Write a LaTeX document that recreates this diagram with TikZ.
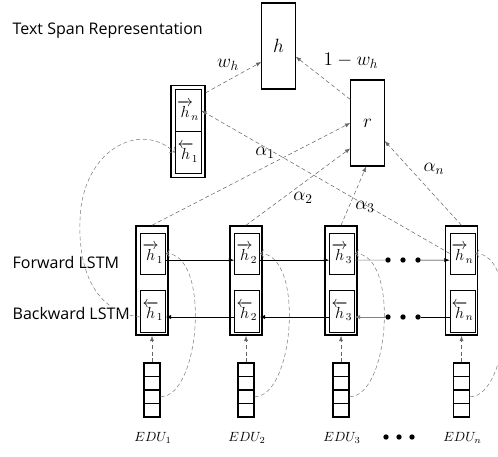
\documentclass[tikz,border=0pt]{standalone}
\usepackage[no-math]{fontspec}
\setmainfont{Open Sans}
\usepackage{amsmath}
\usetikzlibrary{arrows.meta}
\newcommand{\fh}[1]{{\overrightarrow{h}}\mkern-2mu_{#1}}
\newcommand{\bh}[1]{{\overleftarrow{h}}\mkern-2mu_{#1}}

\begin{document}
\begin{tikzpicture}[x=0.75pt,y=-0.75pt,
  cellbox/.style={draw,minimum width=18.75pt,minimum height=30.75pt,inner sep=0pt,font=\large},
  colbox/.style={draw,line width=1.1pt,minimum width=24pt,minimum height=81.75pt,inner sep=0pt},
  embbox/.style={draw,thick,minimum width=12pt,minimum height=10.125pt,inner sep=0pt},
  outbox/.style={draw,thick,minimum width=25pt,minimum height=64.5pt,inner sep=0pt,font=\Large},
  dotnode/.style={circle,fill,inner sep=0pt,minimum size=4pt},
  attn/.style={densely dashed,gray!80!black,-{Latex[length=4pt,width=3pt]}},
  loop/.style={densely dashed,gray,-{To[length=3pt]}},
  lstm/.style={-{Latex[length=4pt,width=3pt]}},
  lbl/.style={font=\Large}]
\useasboundingbox (0,0) rectangle (498,456);

%%output layer
\node[anchor=west,font=\large] (title) at (8,31) {Text Span Representation};
\node[outbox] (h) at (278.5,46) {$h$};
\node[outbox] (r) at (367.5,123) {$r$};
\node[lbl] (wh) at (228,65) {$w_h$};
\node[lbl] (wr) at (351,61) {$1-w_h$};

%%span box
\node[draw,line width=1.1pt,minimum width=25.5pt,minimum height=69pt,inner sep=0pt] (tb) at (188,131.5) {};
\node[cellbox,minimum width=19.5pt,minimum height=31.5pt] (tbf) at (188,110.5) {$\fh{n}$};
\node[cellbox,minimum width=19.5pt,minimum height=31.5pt] (tbb) at (188,152.5) {$\bh{1}$};

%%LSTM columns
\node[anchor=west,font=\large] (fwd) at (8,262) {Forward LSTM};
\node[anchor=west,font=\large] (bwd) at (8,313) {Backward LSTM};
\foreach \i/\x in {1/152,2/246,3/341,n/461.5}
{
\node[colbox] (c\i) at (\x,280.5) {};
\node[cellbox] (f\i) at (\x+1,253.5) {$\fh{\i}$};
\node[cellbox,minimum height=31.5pt] (b\i) at (\x+1,311) {$\bh{\i}$};
\foreach \k in {1,...,4}
  \node[embbox] (e\i-\k) at (\x,356.25+13.5*\k) {};
\node (edu\i) at (\x+1,438) {$EDU_\i$};
\draw[attn] (e\i-1.north) -- (c\i.south);
\draw[loop] (e\i-3.east) .. controls +(40,0) and +(45,0) .. (f\i.east);
}
\foreach \j/\x in {1/388,2/403,3/418}
{
\node[dotnode] (fd\j) at (\x,260) {};
\node[dotnode] (bd\j) at (\x,317) {};
}
\foreach \j/\x in {1/386,2/399,3/412}
\node[dotnode] (ed\j) at (\x,437) {};

%%recurrent links
\draw[lstm] ([yshift=-5pt]f1.east) -- ([yshift=-5pt]f2.west);
\draw[lstm] ([yshift=-5pt]f2.east) -- ([yshift=-5pt]f3.west);
\draw[gray] ([yshift=-5pt]f3.east) -- (fd1);
\draw[lstm] (fd3) -- ([yshift=-5pt]fn.west);
\draw ([yshift=-4.5pt]bn.west) -- (bd3);
\draw[lstm,gray] (bd1) -- ([yshift=-4.5pt]b3.east);
\draw[lstm] ([yshift=-4.5pt]b3.west) -- ([yshift=-4.5pt]b2.east);
\draw[lstm] ([yshift=-4.5pt]b2.west) -- ([yshift=-4.5pt]b1.east);

%%attention
\draw[attn] (c1.north) -- (r.west);
\draw[attn] (c2.north) -- ([yshift=-19pt]r.west);
\draw[attn] (c3.north) -- ([xshift=-1pt]r.south);
\draw[attn] (cn.north) -- ([yshift=-13.5pt]r.east);
\node[lbl] (a1) at (265,153) {$\alpha_1$};
\node[lbl] (a2) at (303,198) {$\alpha_2$};
\node[lbl] (a3) at (365,207) {$\alpha_3$};
\node[lbl] (an) at (434,169) {$\alpha_n$};

%%span links
\draw[attn] (fn.west) -- (tbf.east);
\draw[loop] ([yshift=-4.5pt]b1.west) .. controls (95,312) and (78,270) .. (80,220)
  .. controls (82,150) and (140,120) .. (tbb.west);
\draw[attn] ([yshift=-6pt]tb.north east) -- ([yshift=-12pt]h.west);
\draw[attn] ([yshift=-15pt]r.north west) -- ([yshift=-8pt]h.east);
\end{tikzpicture}
\end{document}
